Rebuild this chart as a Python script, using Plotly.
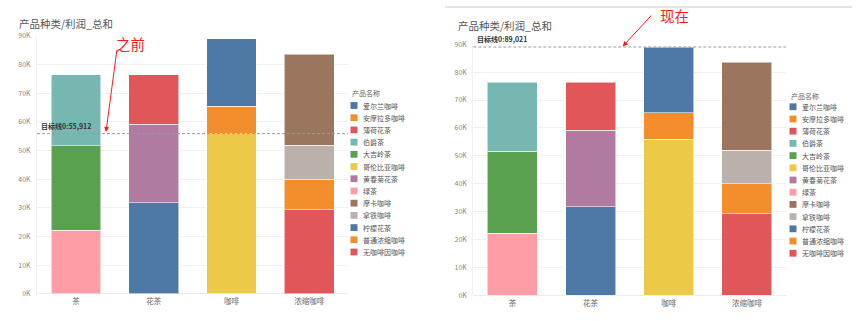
import plotly.graph_objects as go

# ---------------- data ----------------
categories = ["茶", "花茶", "咖啡", "浓缩咖啡"]
products = ["爱尔兰咖啡", "安摩拉多咖啡", "薄荷花茶", "伯爵茶", "大吉岭茶", "哥伦比亚咖啡",
            "黄春菊花茶", "绿茶", "摩卡咖啡", "拿铁咖啡", "柠檬花茶", "普通浓缩咖啡", "无咖啡因咖啡"]
product_category = ["咖啡", "咖啡", "花茶", "茶", "茶", "咖啡",
                    "花茶", "茶", "浓缩咖啡", "浓缩咖啡", "花茶", "浓缩咖啡", "浓缩咖啡"]
profit = [23500, 9600, 17200, 24800, 29400, 55900,
          27400, 22200, 31700, 11900, 31800, 10700, 29300]
colors = ["#4e79a7", "#f28e2b", "#e15759", "#76b7b2", "#59a14f", "#edc948",
          "#b07aa1", "#ff9da7", "#9c755f", "#bab0ac", "#4e79a7", "#f28e2b", "#e15759"]
tick_values = [0, 10000, 20000, 30000, 40000, 50000, 60000, 70000, 80000, 90000]
tick_labels = ["0K", "10K", "20K", "30K", "40K", "50K", "60K", "70K", "80K", "90K"]
target_before = 55912
target_now = 89021
chart_title = "产品种类/利润_总和"
legend_title = "产品名称"

W, H = 858, 321
FONT = "Noto Sans CJK SC"


def px(x):
    return x / W


def py(y):
    return 1 - y / H


fig = go.Figure()

panels = [
    dict(xa="x", ya="y", xdom=[37, 348], ydom=[297, 31], target=target_before,
         title=(17, 18.5), leg_x=350.5, leg_title_y=90, leg_y0=102.7),
    dict(xa="x2", ya="y2", xdom=[473.3, 786], ydom=[298.5, 39.5], target=target_now,
         title=(456, 20.5), leg_x=789.5, leg_title_y=92.7, leg_y0=104),
]

# stack order: last legend item at bottom
for p in panels:
    for i in reversed(range(len(products))):
        fig.add_trace(go.Bar(
            x=[product_category[i]], y=[profit[i]], name=products[i],
            marker=dict(color=colors[i], line=dict(color="rgba(255,255,255,0.55)", width=1)),
            xaxis=p["xa"], yaxis=p["ya"], showlegend=False,
            hovertemplate="%{x}<br>" + products[i] + ": %{y:,}<extra></extra>",
        ))

axis_common_x = dict(type="category", categoryorder="array", categoryarray=categories,
                     showgrid=False, zeroline=False, showline=False, ticks="",
                     ticklabelstandoff=2,
                     tickfont=dict(family=FONT, size=7.5, color="#666"))
axis_common_y = dict(range=[0, 90000], tickvals=tick_values, ticktext=tick_labels,
                     showgrid=True, gridcolor="#f1f1f1", gridwidth=1,
                     zeroline=True, zerolinecolor="#ececec", zerolinewidth=1,
                     showline=True, linecolor="#f0f0f0", linewidth=1, ticks="",
                     ticklabelstandoff=4,
                     tickfont=dict(family=FONT, size=7, color="#888"))

layout_axes = {}
for k, p in enumerate(panels):
    sfx = "" if k == 0 else "2"
    layout_axes["xaxis" + sfx] = dict(axis_common_x, domain=[px(p["xdom"][0]), px(p["xdom"][1])],
                                      anchor="y" + sfx)
    layout_axes["yaxis" + sfx] = dict(axis_common_y, domain=[py(p["ydom"][0]), py(p["ydom"][1])],
                                      anchor="x" + sfx)

annotations = []
shapes = []
for k, p in enumerate(panels):
    sfx = "" if k == 0 else "2"
    # title
    annotations.append(dict(text=chart_title, x=px(p["title"][0]), y=py(p["title"][1]),
                            xref="paper", yref="paper", xanchor="left", yanchor="middle",
                            showarrow=False, font=dict(family=FONT, size=10.5, color="#555")))
    # target line
    shapes.append(dict(type="line", xref="x" + sfx + " domain", yref="y" + sfx,
                       x0=0, x1=1, y0=p["target"], y1=p["target"], layer="above",
                       line=dict(color="#9a9a9a", width=1, dash="3px,2px")))
    annotations.append(dict(text="<b>目标线0:" + f"{p['target']:,}" + "</b>",
                            xref="x" + sfx + " domain", yref="y" + sfx, x=0.005, y=p["target"],
                            xanchor="left", yanchor="bottom", yshift=1, showarrow=False,
                            font=dict(family=FONT, size=7, color="#333")))
    # legend
    annotations.append(dict(text=legend_title, x=px(p["leg_x"] - 1), y=py(p["leg_title_y"]),
                            xref="paper", yref="paper", xanchor="left", yanchor="middle",
                            showarrow=False, font=dict(family=FONT, size=7, color="#666")))
    for i, name in enumerate(products):
        yc = p["leg_y0"] + 12.6 * i
        shapes.append(dict(type="rect", xref="paper", yref="paper",
                           x0=px(p["leg_x"]), x1=px(p["leg_x"] + 7),
                           y0=py(yc + 3.5), y1=py(yc - 3.5),
                           fillcolor=colors[i], line=dict(width=0)))
        annotations.append(dict(text=name, x=px(p["leg_x"] + 10.5), y=py(yc),
                                xref="paper", yref="paper", xanchor="left", yanchor="middle",
                                showarrow=False, font=dict(family=FONT, size=7, color="#555")))

# top border of the right screenshot
shapes.append(dict(type="rect", xref="paper", yref="paper", x0=px(445), x1=px(852),
                   y0=py(2), y1=py(0), fillcolor="#e4e4e4", line=dict(width=0)))

# red callouts
RED = "#ff1a1a"
annotations.append(dict(text="之前", x=px(130), y=py(38.5), xref="paper", yref="paper",
                        xanchor="center", yanchor="middle", showarrow=False,
                        font=dict(family=FONT, size=14.5, color=RED)))
annotations.append(dict(text="", x=px(106), y=py(130), xref="paper", yref="paper",
                        ax=11, ay=-83, showarrow=True, arrowhead=2, arrowsize=1,
                        arrowwidth=1, arrowcolor=RED))
annotations.append(dict(text="现在", x=px(674), y=py(10), xref="paper", yref="paper",
                        xanchor="center", yanchor="middle", showarrow=False,
                        font=dict(family=FONT, size=14.5, color=RED)))
annotations.append(dict(text="", x=px(622.7), y=py(41.7), xref="paper", yref="paper",
                        ax=30, ay=-32.4, showarrow=True, arrowhead=2, arrowsize=1,
                        arrowwidth=1, arrowcolor=RED))

fig.update_layout(
    width=W, height=H, margin=dict(l=0, r=0, t=0, b=0),
    paper_bgcolor="white", plot_bgcolor="white",
    barmode="stack", bargap=0.36, showlegend=False,
    font=dict(family=FONT),
    annotations=annotations, shapes=shapes,
    **layout_axes,
)

fig.write_html("out.html")
